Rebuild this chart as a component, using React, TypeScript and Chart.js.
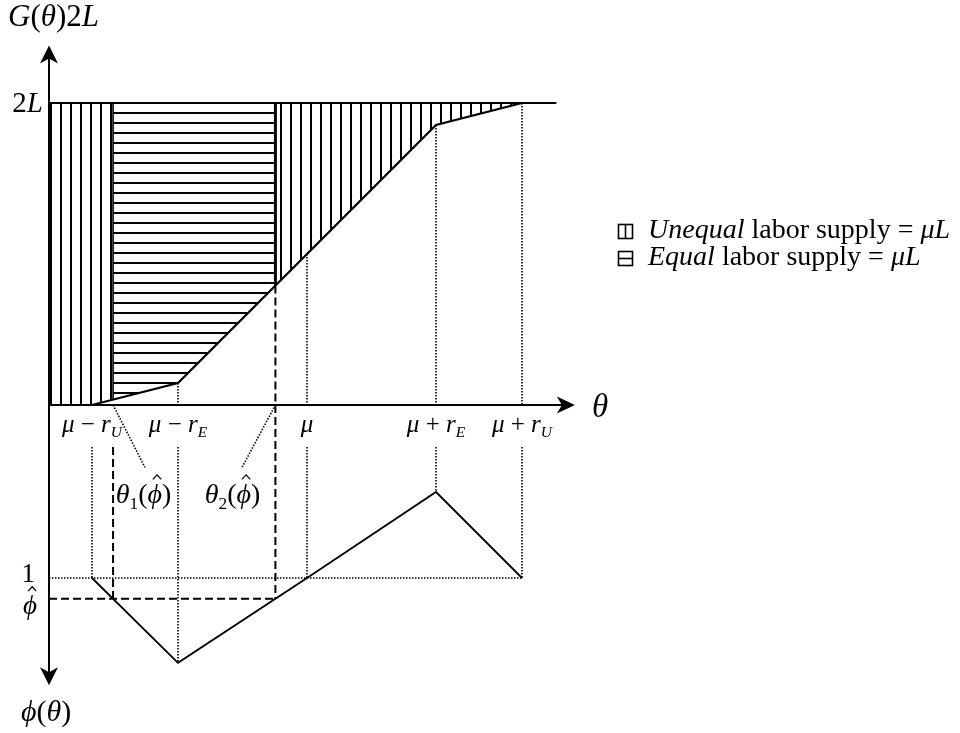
import React, { useEffect, useRef } from "react";
import { Chart, registerables } from "chart.js";

Chart.register(...registerables);

type Run = { t: string; it?: boolean; sub?: boolean; hat?: boolean };

// Horizontal axis: θ measured from the origin, with μ = 6, r_E = 3, r_U = 5
const tickTheta = [1, 3, 6, 9, 11];
const tickLabels: Run[][] = [
  [{ t: "μ", it: true }, { t: " − " }, { t: "r", it: true }, { t: "U", it: true, sub: true }],
  [{ t: "μ", it: true }, { t: " − " }, { t: "r", it: true }, { t: "E", it: true, sub: true }],
  [{ t: "μ", it: true }],
  [{ t: "μ", it: true }, { t: " + " }, { t: "r", it: true }, { t: "E", it: true, sub: true }],
  [{ t: "μ", it: true }, { t: " + " }, { t: "r", it: true }, { t: "U", it: true, sub: true }],
];

// Upper panel: G(θ) as a share of 2L
const gTheta = [0, 1, 3, 9, 11];
const gShare = [0, 0, 0.073, 0.927, 1];
const ceilingTheta = [0, 11.8];
const ceilingShare = [1, 1];

// Lower panel: φ(θ), measured downward from the θ axis
const phiTheta = [1, 3, 6, 9, 11];
const phiValues = [1, 1.49, 1, 0.503, 1];
const phiOne = 1;
const phiHat = 1.12;

// Notes for the two crossing points θ1(φ̂), θ2(φ̂)
const PHI = "ϕ";
const noteLabels: Run[][] = [
  [{ t: "θ", it: true }, { t: "1", sub: true }, { t: "(" }, { t: PHI, it: true, hat: true }, { t: ")" }],
  [{ t: "θ", it: true }, { t: "2", sub: true }, { t: "(" }, { t: PHI, it: true, hat: true }, { t: ")" }],
];
const noteTheta = [2.2, 4.27];
const leaderEndTheta = [2.23, 4.49];

// Legend entries
const legendRuns: Run[][] = [
  [{ t: "Unequal", it: true }, { t: " labor supply = " }, { t: "μL", it: true }],
  [{ t: "Equal", it: true }, { t: " labor supply = " }, { t: "μL", it: true }],
];

// Canvas geometry
const W = 960;
const H = 733;
const ORIGIN_X = 49;
const AXIS_Y = 405;
const PX_THETA = 43;
const PX_G = 302;
const PX_PHI = 173;

// Positions (in axis units) of guide-line ends, arrow tips and label baselines
const guideTopPhi = 0.243;
const leaderEndPhi = 0.36;
const tickBaselinePhi = 0.156;
const noteBaselinePhi = 0.566;
const arrowTopG = 1.19;
const arrowBottomPhi = 1.62;
const arrowRightTheta = 12.23;

const SERIF = '"Liberation Serif", "Times New Roman", serif';

function interp(xs: number[], ys: number[], x: number): number {
  if (x <= xs[0]) return ys[0];
  for (let i = 0; i < xs.length - 1; i++) {
    if (x <= xs[i + 1]) {
      const t = (x - xs[i]) / (xs[i + 1] - xs[i]);
      return ys[i] + t * (ys[i + 1] - ys[i]);
    }
  }
  return ys[ys.length - 1];
}

function crossing(xs: number[], ys: number[], v: number, seg: number): number {
  const t = (v - ys[seg]) / (ys[seg + 1] - ys[seg]);
  return xs[seg] + t * (xs[seg + 1] - xs[seg]);
}

function slice(xs: number[], ys: number[], a: number, b: number) {
  const out = [{ x: a, y: interp(xs, ys, a) }];
  xs.forEach((x, i) => {
    if (x > a && x < b) out.push({ x, y: ys[i] });
  });
  out.push({ x: b, y: interp(xs, ys, b) });
  return out;
}

function font(size: number, it?: boolean) {
  return `${it ? "italic " : ""}${size}px ${SERIF}`;
}

function drawRich(
  ctx: CanvasRenderingContext2D,
  runs: Run[],
  x: number,
  y: number,
  size: number,
  align: "left" | "center" | "right" = "left"
) {
  const parts = runs.map((r) => {
    const s = r.sub ? size * 0.62 : size;
    ctx.font = font(s, r.it);
    return { r, s, w: ctx.measureText(r.t).width };
  });
  const total = parts.reduce((a, p) => a + p.w, 0);
  let cx = align === "center" ? x - total / 2 : align === "right" ? x - total : x;
  ctx.textAlign = "left";
  ctx.textBaseline = "alphabetic";
  ctx.fillStyle = "#000";
  for (const p of parts) {
    ctx.font = font(p.s, p.r.it);
    const dy = p.r.sub ? size * 0.2 : 0;
    ctx.fillText(p.r.t, cx, y + dy);
    if (p.r.hat) {
      const mx = cx + p.w / 2 + size * 0.08;
      const top = y - size * 1.0;
      ctx.beginPath();
      ctx.moveTo(mx - size * 0.15, top + size * 0.16);
      ctx.lineTo(mx, top);
      ctx.lineTo(mx + size * 0.15, top + size * 0.16);
      ctx.lineWidth = 1.3;
      ctx.strokeStyle = "#000";
      ctx.stroke();
    }
    cx += p.w;
  }
}

function makePattern(vertical: boolean): CanvasPattern | string {
  const c = document.createElement("canvas");
  c.width = 10;
  c.height = 10;
  const g = c.getContext("2d");
  if (!g) return "rgba(0,0,0,0.2)";
  g.fillStyle = "#000";
  if (vertical) g.fillRect(0, 0, 2, 10);
  else g.fillRect(0, 2, 10, 2);
  return g.createPattern(c, "repeat") || "rgba(0,0,0,0.2)";
}

const DOT = [1.5, 1.5];
const DOT_W = 1.6;
const DASH = [8, 4];

export default function App() {
  const ref = useRef<HTMLCanvasElement | null>(null);

  useEffect(() => {
    const canvas = ref.current;
    if (!canvas) return;

    const theta1 = crossing(phiTheta, phiValues, phiHat, 0);
    const theta2 = crossing(phiTheta, phiValues, phiHat, 1);
    const gAt = (t: number) => interp(gTheta, gShare, t);
    const phiAt = (t: number) => interp(phiTheta, phiValues, t);
    const gEnd = gTheta[gTheta.length - 1];

    const vPattern = makePattern(true);
    const hPattern = makePattern(false);

    const base = {
      type: "line" as const,
      pointRadius: 0,
      tension: 0,
      borderColor: "#000",
      clip: false as const,
      fill: false as any,
    };
    const line = (pts: { x: number; y: number }[], axis: string, width: number, dash: number[] = []) => ({
      ...base,
      data: pts,
      yAxisID: axis,
      borderWidth: width,
      borderDash: dash,
    });
    const area = (pts: { x: number; y: number }[], pattern: CanvasPattern | string) => ({
      ...base,
      data: pts,
      yAxisID: "yG",
      borderWidth: 0,
      backgroundColor: pattern,
      fill: { value: 1 },
    });

    const datasets: any[] = [
      // hatched areas between G(θ) and 2L
      area(slice(gTheta, gShare, 0, theta1), vPattern),
      area(slice(gTheta, gShare, theta1, theta2), hPattern),
      area(slice(gTheta, gShare, theta2, gEnd), vPattern),
      // ceiling at 2L and the G curve
      line(ceilingTheta.map((x, i) => ({ x, y: ceilingShare[i] })), "yG", 2),
      line(gTheta.map((x, i) => ({ x, y: gShare[i] })), "yG", 2.2),
      // borders of the equal-supply band
      line([{ x: theta1, y: gAt(theta1) }, { x: theta1, y: 1 }], "yG", 1.6),
      line([{ x: theta2, y: gAt(theta2) }, { x: theta2, y: 1 }], "yG", 3),
      // θ2 dashed guide through both panels
      line([{ x: theta2, y: gAt(theta2) }, { x: theta2, y: 0 }], "yG", 2, DASH),
      line([{ x: theta2, y: 0 }, { x: theta2, y: phiHat }], "yPhi", 2, DASH),
      line([{ x: theta1, y: guideTopPhi }, { x: theta1, y: phiHat }], "yPhi", 2, DASH),
      line([{ x: 0, y: phiHat }, { x: theta2, y: phiHat }], "yPhi", 2, DASH),
      // φ = 1 reference
      line([{ x: 0, y: phiOne }, { x: phiTheta[phiTheta.length - 1], y: phiOne }], "yPhi", DOT_W, DOT),
      // leaders to the θ1(φ̂), θ2(φ̂) notes
      line([{ x: theta1, y: 0 }, { x: leaderEndTheta[0], y: leaderEndPhi }], "yPhi", DOT_W, DOT),
      line([{ x: theta2, y: 0 }, { x: leaderEndTheta[1], y: leaderEndPhi }], "yPhi", DOT_W, DOT),
    ];

    // dotted drops from G(θ) to the θ axis, and from below the tick labels to φ(θ)
    tickTheta.forEach((t) => {
      if (gAt(t) > 0) datasets.push(line([{ x: t, y: gAt(t) }, { x: t, y: 0 }], "yG", DOT_W, DOT));
      datasets.push(line([{ x: t, y: guideTopPhi }, { x: t, y: phiAt(t) }], "yPhi", DOT_W, DOT));
    });

    datasets.push(line(phiTheta.map((x, i) => ({ x, y: phiValues[i] })), "yPhi", 1.8));

    const decor = {
      id: "decor",
      beforeDraw(chart: Chart) {
        const c = chart.ctx;
        c.save();
        c.fillStyle = "#fff";
        c.fillRect(0, 0, chart.width, chart.height);
        c.restore();
      },
      afterDraw(chart: Chart) {
        const c = chart.ctx;
        const xs = chart.scales.x;
        const yg = chart.scales.yG;
        const yp = chart.scales.yPhi;
        const ox = xs.getPixelForValue(0);
        const oy = yg.getPixelForValue(0);
        const topY = yg.getPixelForValue(arrowTopG);
        const botY = yp.getPixelForValue(arrowBottomPhi);
        const rightX = xs.getPixelForValue(arrowRightTheta);

        c.save();
        c.strokeStyle = "#000";
        c.fillStyle = "#000";
        c.lineWidth = 2;
        c.setLineDash([]);
        c.beginPath();
        c.moveTo(ox, topY + 12);
        c.lineTo(ox, botY - 12);
        c.moveTo(ox, oy);
        c.lineTo(rightX - 12, oy);
        c.stroke();

        // arrowheads
        c.beginPath();
        c.moveTo(ox, topY);
        c.lineTo(ox + 9, topY + 18);
        c.lineTo(ox, topY + 13);
        c.lineTo(ox - 9, topY + 18);
        c.closePath();
        c.fill();
        c.beginPath();
        c.moveTo(ox, botY);
        c.lineTo(ox + 9, botY - 18);
        c.lineTo(ox, botY - 13);
        c.lineTo(ox - 9, botY - 18);
        c.closePath();
        c.fill();
        c.beginPath();
        c.moveTo(rightX, oy);
        c.lineTo(rightX - 18, oy - 8.5);
        c.lineTo(rightX - 13, oy);
        c.lineTo(rightX - 18, oy + 8.5);
        c.closePath();
        c.fill();

        // axis titles and level labels
        drawRich(c, [{ t: "G", it: true }, { t: "(" }, { t: "θ", it: true }, { t: ")2" }, { t: "L", it: true }], 8, 26, 31);
        drawRich(c, [{ t: "2" }, { t: "L", it: true }], ox - 6, yg.getPixelForValue(1) + 9, 29, "right");
        drawRich(c, [{ t: "θ", it: true }], rightX + 17, oy + 12, 33);
        drawRich(c, [{ t: "1" }], ox - 14, yp.getPixelForValue(phiOne) + 4, 27, "right");
        drawRich(c, [{ t: PHI, it: true, hat: true }], ox - 12, yp.getPixelForValue(phiHat) + 15, 27, "right");
        drawRich(c, [{ t: PHI, it: true }, { t: "(" }, { t: "θ", it: true }, { t: ")" }], 21, 721, 30);

        // tick labels
        const tickY = yp.getPixelForValue(tickBaselinePhi);
        tickTheta.forEach((t, i) => drawRich(c, tickLabels[i], xs.getPixelForValue(t), tickY, 25, "center"));

        // crossing notes
        const noteY = yp.getPixelForValue(noteBaselinePhi);
        noteLabels.forEach((r, i) => drawRich(c, r, xs.getPixelForValue(noteTheta[i]), noteY, 28, "center"));

        // legend
        const lx = 618;
        const ly = [224, 251];
        c.lineWidth = 1.6;
        ly.forEach((y, i) => {
          c.strokeRect(lx + 0.5, y + 0.5, 14, 14);
          c.beginPath();
          if (i === 0) {
            c.moveTo(lx + 7.5, y);
            c.lineTo(lx + 7.5, y + 15);
          } else {
            c.moveTo(lx, y + 7.5);
            c.lineTo(lx + 15, y + 7.5);
          }
          c.stroke();
          drawRich(c, legendRuns[i], 648, y + 14, 28);
        });
        c.restore();
      },
    };

    const chart = new Chart(canvas, {
      type: "line",
      data: { datasets },
      options: {
        animation: false,
        responsive: false,
        events: [],
        layout: { padding: 0 },
        plugins: { legend: { display: false }, tooltip: { enabled: false } },
        scales: {
          x: { type: "linear", display: false, min: -ORIGIN_X / PX_THETA, max: (W - ORIGIN_X) / PX_THETA },
          yG: { type: "linear", display: false, min: -(H - AXIS_Y) / PX_G, max: AXIS_Y / PX_G },
          yPhi: { type: "linear", display: false, reverse: true, min: -AXIS_Y / PX_PHI, max: (H - AXIS_Y) / PX_PHI },
        },
      } as any,
      plugins: [decor],
    });

    return () => chart.destroy();
  }, []);

  return (
    <div style={{ position: "absolute", left: 0, top: 0, width: W, height: H, background: "#fff" }}>
      <canvas ref={ref} width={W} height={H} style={{ display: "block" }} />
    </div>
  );
}
